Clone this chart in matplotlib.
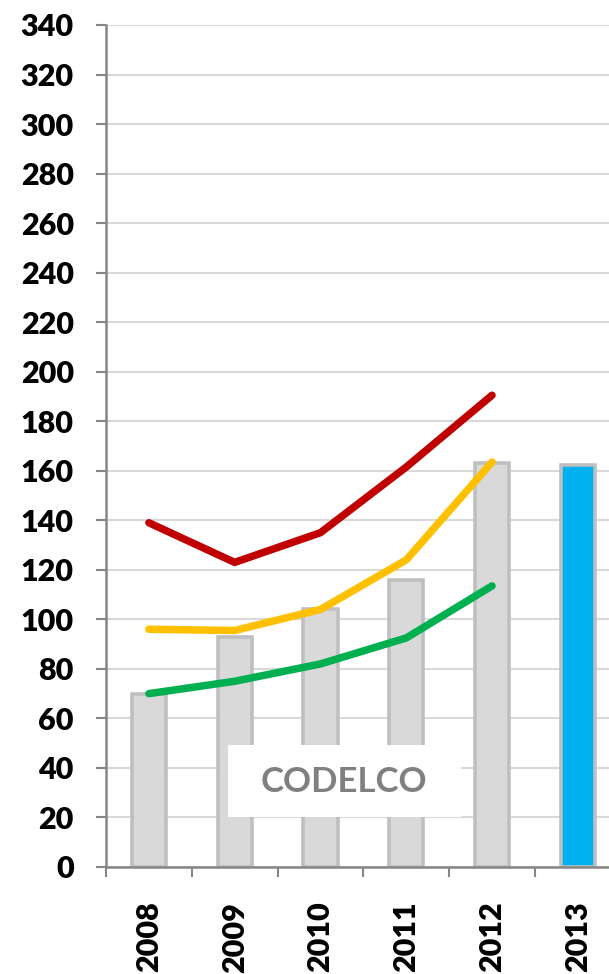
import matplotlib
matplotlib.use("Agg")
import matplotlib.pyplot as plt
from matplotlib.patches import Rectangle

years = ["2008", "2009", "2010", "2011", "2012", "2013"]
bar_values = [70, 93, 104, 116, 163, 162.5]
red_line = [139, 123, 135, 161.5, 190.5]
yellow_line = [96, 95.5, 104, 124, 163.5]
green_line = [70, 75, 82, 92.5, 113.5]
y_ticks = list(range(0, 341, 20))
label_text = "CODELCO"

FONT = "Lato"
WEIGHT = "heavy"
fig = plt.figure(figsize=(6.09, 9.74), dpi=100)
ax = fig.add_axes([106/609, 1-867/974, (620.7-106)/609, (867-25)/974])

x = list(range(len(years)))
colors = ["#d9d9d9"] * 5 + ["#00b0f0"]
ax.bar(x, bar_values, width=0.40, color=colors, edgecolor="#bfbfbf", linewidth=2.6, zorder=2)

lx = x[:len(red_line)]
ax.plot(lx, red_line, color="#c00000", lw=5.4, solid_capstyle="round", solid_joinstyle="round", zorder=6)
ax.plot(lx, yellow_line, color="#ffc000", lw=5.4, solid_capstyle="round", solid_joinstyle="round", zorder=6)
ax.plot(lx, green_line, color="#00b050", lw=5.4, solid_capstyle="round", solid_joinstyle="round", zorder=6)

ax.add_patch(Rectangle((0.924, 20.3), 2.718, 29.0, facecolor="white", edgecolor="none", zorder=4))
ax.text(2.27, 34.3, label_text, ha="center", va="center", fontsize=25, fontweight="bold",
        color="#808080", family=FONT, zorder=5)

ax.set_xlim(-0.5, 5.5)
ax.set_ylim(0, 340)
ax.set_yticks(y_ticks)
ax.set_yticklabels([str(v) for v in y_ticks], fontsize=22, fontweight=WEIGHT, family=FONT)
ax.yaxis.grid(True, color="#d9d9d9", lw=1.5, zorder=0)
ax.set_axisbelow(True)

ax.set_xticks(x)
ax.set_xticklabels(years, rotation=90, fontsize=22, fontweight=WEIGHT, family=FONT, va="top")
ax.set_xticks([i - 0.5 for i in range(len(years) + 1)], minor=True)
ax.tick_params(axis="x", which="major", length=0, pad=25)
ax.tick_params(axis="x", which="minor", length=7.2, width=1.5, color="#868686", direction="out")
ax.tick_params(axis="y", length=7.2, width=1.5, color="#868686", direction="out", pad=16)

for s in ["top", "right"]:
    ax.spines[s].set_visible(False)
for s in ["left", "bottom"]:
    ax.spines[s].set_color("#868686")
    ax.spines[s].set_linewidth(1.8)

fig.savefig("out.png", dpi=100)
